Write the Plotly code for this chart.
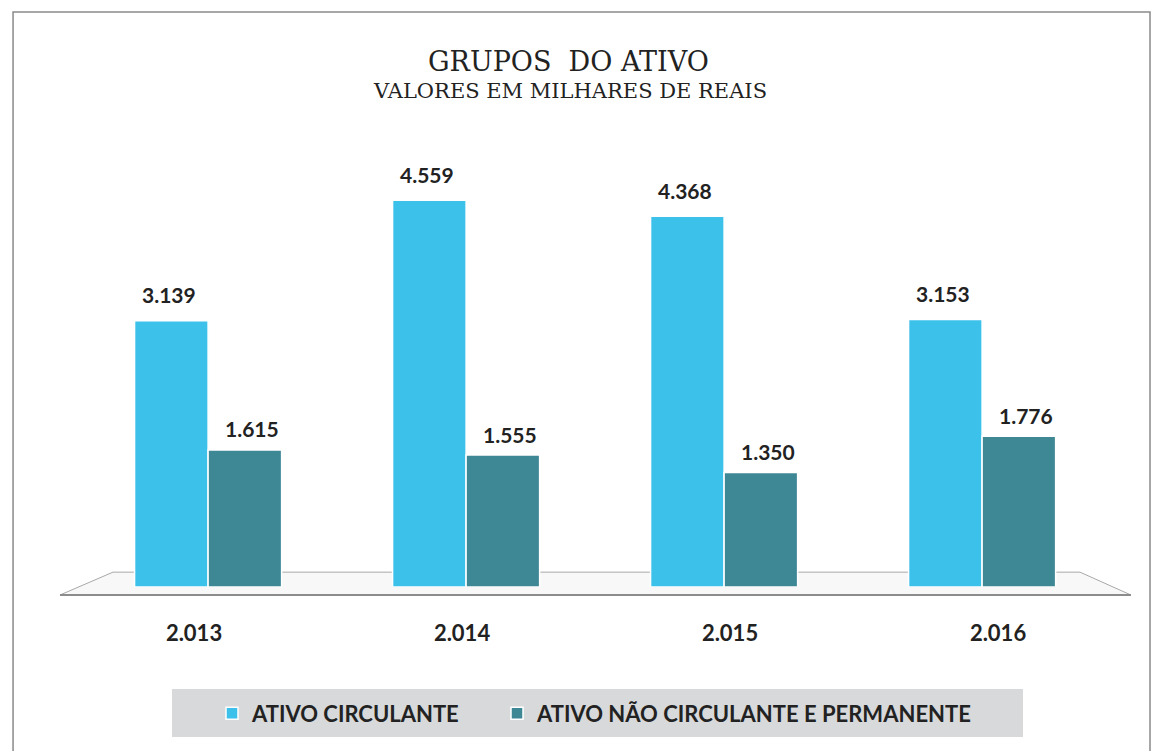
import plotly.graph_objects as go

years = ["2.013", "2.014", "2.015", "2.016"]
circulante = [3139, 4559, 4368, 3153]
nao_circulante = [1615, 1555, 1350, 1776]
label_circ = ["3.139", "4.559", "4.368", "3.153"]
label_nao = ["1.615", "1.555", "1.350", "1.776"]

C1 = "#3CC1EB"
C2 = "#3E8795"
LBL = "Lato"
SERIF = "DejaVu Serif"
TXT = "#222222"

fig = go.Figure()
fig.add_trace(go.Bar(x=years, y=circulante, name="ATIVO CIRCULANTE",
                     marker=dict(color=C1, line=dict(color="white", width=1.5)),
                     legend="legend"))
fig.add_trace(go.Bar(x=years, y=nao_circulante, name="ATIVO NÃO CIRCULANTE E PERMANENTE",
                     marker=dict(color=C2, line=dict(color="white", width=1.5)),
                     legend="legend2"))
# invisible carrier for the category labels on the (perspective-wider) front axis
fig.add_trace(go.Scatter(x=years, y=[0] * len(years), xaxis="x2", yaxis="y",
                         mode="markers", marker=dict(opacity=0), showlegend=False,
                         hoverinfo="skip"))

for i in range(len(years)):
    fig.add_annotation(x=i, y=circulante[i], text=label_circ[i], showarrow=False,
                       xref="x", yref="y", xshift=-39, yshift=26,
                       font=dict(family=LBL, size=21, color=TXT, weight="bold"))
    fig.add_annotation(x=i, y=nao_circulante[i], text=label_nao[i], showarrow=False,
                       xref="x", yref="y", xshift=44, yshift=21,
                       font=dict(family=LBL, size=21, color=TXT, weight="bold"))

# titles
fig.add_annotation(text="GRUPOS  DO ATIVO", xref="paper", yref="paper", x=0.474, y=1.203,
                   showarrow=False, xanchor="center", yanchor="middle",
                   font=dict(family=SERIF, size=27, color=TXT))
fig.add_annotation(text="VALORES EM MILHARES DE REAIS", xref="paper", yref="paper", x=0.476, y=1.136,
                   showarrow=False, xanchor="center", yanchor="middle",
                   font=dict(family=SERIF, size=21, color=TXT))

# outer frame
fig.add_shape(type="rect", xref="paper", yref="paper", x0=-0.0438, x1=1.0168, y0=-0.40, y1=1.3158,
              line=dict(color="#8a8a8a", width=1.5), fillcolor="rgba(0,0,0,0)", layer="below")
# floor
fig.add_shape(type="path", xref="paper", yref="paper",
              path="M 0.0494,0.034 L 0.9515,0.034 L 0.999,-0.0183 L 0.0,-0.0183 Z",
              line=dict(color="#a8a8a8", width=1), fillcolor="#f8f8f8", layer="below")
fig.add_shape(type="line", xref="paper", yref="paper", x0=0.0, x1=0.999, y0=-0.0183, y1=-0.0183,
              line=dict(color="#8c8c8c", width=2), layer="below")
# legend background
fig.add_shape(type="rect", xref="paper", yref="paper", x0=0.1045, x1=0.8983, y0=-0.3432, y1=-0.2334,
              line=dict(width=0), fillcolor="#D8D9DA", layer="below")

legend_font = dict(family=LBL, size=22, color=TXT, weight="bold")
fig.update_layout(
    width=1164, height=751,
    margin=dict(l=60, r=32, t=150, b=164, autoexpand=False),
    paper_bgcolor="white", plot_bgcolor="rgba(0,0,0,0)",
    barmode="group", bargap=0.43, bargroupgap=0.0,
    xaxis=dict(type="category", range=[-0.574, 3.581], showgrid=False, showline=False,
               zeroline=False, ticks="", showticklabels=False),
    xaxis2=dict(type="category", overlaying="x", anchor="y", side="bottom",
                range=[-0.5, 3.5], showgrid=False, showline=False, zeroline=False, ticks="",
                ticklabelstandoff=31,
                tickfont=dict(family=LBL, size=22, color=TXT, weight="bold")),
    yaxis=dict(range=[0, 5150], visible=False),
    legend=dict(orientation="h", xref="container", yref="container",
                x=212 / 1164, xanchor="left", y=0.05, yanchor="middle",
                bgcolor="rgba(0,0,0,0)", font=legend_font),
    legend2=dict(orientation="h", xref="container", yref="container",
                 x=497 / 1164, xanchor="left", y=0.05, yanchor="middle",
                 bgcolor="rgba(0,0,0,0)", font=legend_font),
    showlegend=True,
)
fig.write_html("out.html", post_script="document.body.style.margin='0';",
               config={"displayModeBar": False})
